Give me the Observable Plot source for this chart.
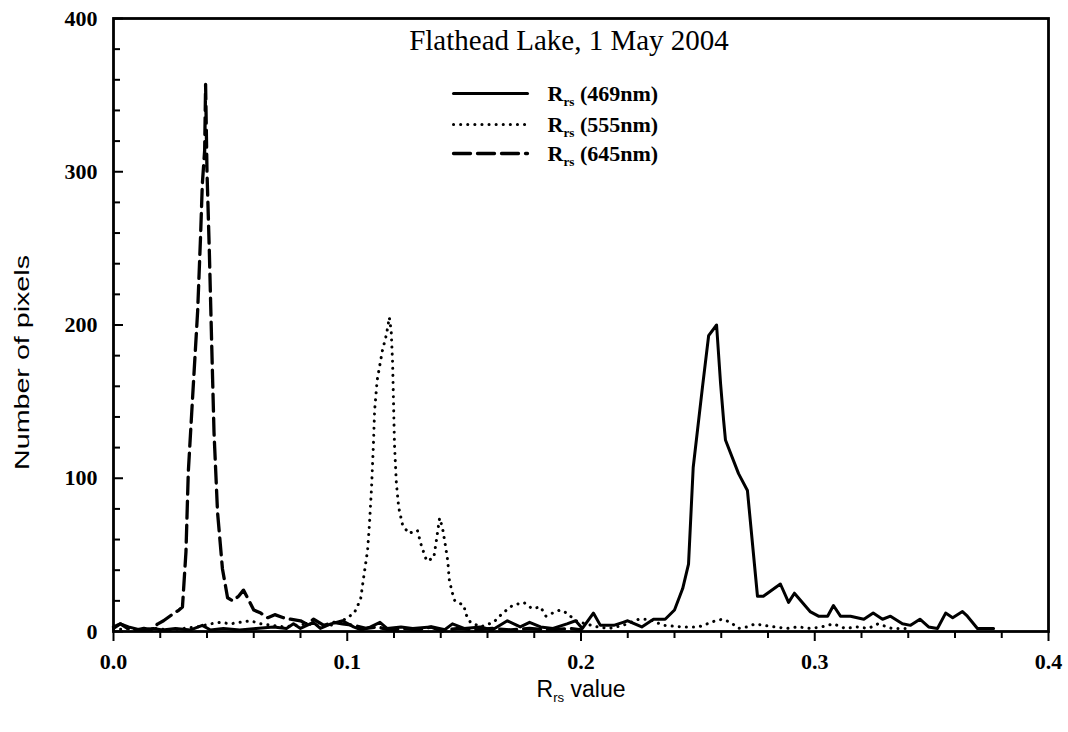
<!DOCTYPE html>
<html><head><meta charset="utf-8">
<script src="https://cdn.jsdelivr.net/npm/d3@7"></script>
<script src="https://cdn.jsdelivr.net/npm/@observablehq/plot@0.6"></script>
<style>
html,body{margin:0;padding:0;background:#fff;}
#chart svg{display:block;}
</style></head><body><div id="chart"></div>
<script>
// ---- data ----
const titleText = "Flathead Lake, 1 May 2004";
const legendLabels = ["R_rs (469nm)", "R_rs (555nm)", "R_rs (645nm)"];
const xLabel = "R_rs value";
const yLabel = "Number of pixels";

const xMajorTicks = [0, 0.1, 0.2, 0.3, 0.4];
const xMinorTicks = [0.02,0.04,0.06,0.08,0.12,0.14,0.16,0.18,0.22,0.24,0.26,0.28,0.32,0.34,0.36,0.38];
const yMajorTicks = [0, 100, 200, 300, 400];
const yMinorTicks = [20,40,60,80,120,140,160,180,220,240,260,280,320,340,360,380];

// Rrs 469 nm (solid)
const r469X = [0.000,0.003,0.0064,0.0115,0.017,0.021,0.0265,0.033,0.038,0.0415,0.047,0.054,0.061,0.0685,0.074,0.077,0.080,0.0855,0.0885,0.093,0.098,0.1027,0.106,0.110,0.114,0.117,0.123,0.128,0.1356,0.1407,0.145,0.150,0.157,0.162,0.1685,0.174,0.178,0.1827,0.188,0.194,0.1977,0.2006,0.2053,0.2083,0.214,0.218,0.220,0.226,0.231,0.236,0.240,0.2435,0.246,0.248,0.252,0.2546,0.258,0.2597,0.261,0.2618,0.2674,0.2712,0.2755,0.278,0.2853,0.2888,0.2913,0.298,0.3016,0.3055,0.308,0.311,0.3153,0.321,0.325,0.329,0.3324,0.3375,0.341,0.345,0.3487,0.3525,0.356,0.359,0.3632,0.3653,0.3696,0.375,0.3765];
const r469Y = [2,5,3,1,2,1,2,1,4,1,2,1,2,3,2,5,2,6,2,5,7,3,1,3,6,2,3,2,3,0,5,2,3,1,7,3,6,3,2,5,7,2,12,4,4,6,7,3,8,8,14,28,44,107,160,193,200,162,138,125,103,92,23,23,31,19,25,13,10,10,17,10,10,8,12,8,10,5,4,8,3,2,12,9,13,10,2,2,2];

// Rrs 555 nm (dotted)
const r555X = [0.000,0.006,0.012,0.018,0.024,0.030,0.036,0.0415,0.046,0.050,0.054,0.0586,0.063,0.068,0.073,0.078,0.083,0.088,0.0928,0.098,0.103,0.1057,0.107,0.1087,0.1095,0.1104,0.1112,0.1117,0.1128,0.115,0.1168,0.118,0.1188,0.1194,0.1198,0.1202,0.121,0.122,0.1236,0.1262,0.130,0.1317,0.134,0.137,0.138,0.1395,0.1407,0.142,0.143,0.1437,0.145,0.146,0.150,0.1505,0.1527,0.157,0.1626,0.1665,0.1707,0.1755,0.179,0.1827,0.185,0.1878,0.191,0.194,0.1977,0.202,0.207,0.212,0.218,0.2247,0.229,0.2353,0.2434,0.2503,0.254,0.2575,0.2605,0.264,0.2674,0.271,0.2746,0.278,0.283,0.288,0.293,0.298,0.303,0.308,0.313,0.318,0.323,0.327,0.333,0.340];
const r555Y = [1,2,1,2,1,2,3,5,6,5,6,7,5,4,3,4,5,4,4,7,12,21,35,53,70,94,122,144,164,183,194,205,196,175,149,122,97,81,70,64,66,56,46,48,58,74,68,56,46,33,25,20,17,12,6,3,6,12,17,19,15,16,10,12,14,12,7,5,3,2,4,8,8,4,3,3,5,7,8,6,2,3,5,4,3,2,3,2,3,5,2,3,2,5,2,2];

// Rrs 645 nm (dashed)
const r645X = [0.000,0.003,0.006,0.010,0.013,0.016,0.019,0.0214,0.025,0.028,0.0295,0.031,0.032,0.034,0.036,0.0372,0.038,0.039,0.0394,0.040,0.041,0.042,0.043,0.0445,0.0466,0.0488,0.051,0.0535,0.0556,0.058,0.060,0.063,0.066,0.069,0.0727,0.0757,0.080,0.0825,0.0856,0.090,0.094,0.098,0.103,0.108,0.113,0.118,0.124,0.130,0.136,0.142,0.148,0.155,0.162,0.170,0.178,0.186,0.195,0.200];
const r645Y = [3,5,2,1,2,1,5,7,11,14,16,52,104,157,209,256,292,314,357,300,248,188,130,78,41,22,20,23,27,20,14,12,9,11,9,8,7,5,8,4,6,5,4,2,3,1,2,1,3,1,2,1,2,1,2,1,2,1];

// ---- layout ----
const W = 1068, H = 732, mL = 113, mR = 20, mT = 18, mB = 101;
const pw = W - mL - mR, ph = H - mT - mB;
const px2x = (px) => (px - mL) / pw * 0.4;
const px2y = (py) => (H - mB - py) / ph * 400;

const toRows = (xs, ys) => xs.map((x, i) => ({x, y: ys[i]}));
const s469 = toRows(r469X, r469Y);
const s555 = toRows(r555X, r555Y);
const s645 = toRows(r645X, r645Y);

const styles = [
  {stroke: "#000", strokeWidth: 3, strokeLinejoin: "round"},
  {stroke: "#000", strokeWidth: 3, strokeDasharray: "0.1 7", strokeLinecap: "round"},
  {stroke: "#000", strokeWidth: 3.3, strokeDasharray: "17 7"}
];
const legendRowsPx = [93, 124, 153];
const legendLines = legendRowsPx.map(py => [{x: px2x(453), y: px2y(py)}, {x: px2x(527), y: px2y(py)}]);
const legendText = legendLabels.map((t, i) => ({t, x: px2x(547), y: px2y(legendRowsPx[i])}));

const serif = "'Liberation Serif', 'Times New Roman', serif";
const sans = "'Liberation Sans', Arial, sans-serif";

const plot = Plot.plot({
  width: W, height: H,
  marginLeft: mL, marginRight: mR, marginTop: mT, marginBottom: mB,
  style: {fontFamily: serif, background: "#fff", color: "#000", overflow: "visible"},
  x: {domain: [0, 0.4], label: null},
  y: {domain: [0, 400], label: null},
  marks: [
    Plot.line(s645, {x: "x", y: "y", ...styles[2]}),
    Plot.line(s555, {x: "x", y: "y", ...styles[1]}),
    Plot.line(s469, {x: "x", y: "y", ...styles[0]}),
    Plot.frame({stroke: "#000", strokeWidth: 2.8}),
    Plot.axisX({ticks: xMinorTicks, tickSize: 7, tickFormat: () => "", strokeWidth: 2, label: null}),
    Plot.axisX({ticks: xMajorTicks, tickSize: 10, tickPadding: 12, strokeWidth: 2, tickFormat: d3.format(".1f"), fontSize: 22, fontWeight: "bold", label: null}),
    Plot.tickY(yMinorTicks, {y: d => d, insetRight: pw - 7, strokeWidth: 2}),
    Plot.tickY(yMajorTicks, {y: d => d, insetRight: pw - 10, strokeWidth: 2}),
    Plot.axisY({ticks: yMajorTicks, tickSize: 0, tickPadding: 16, tickFormat: d3.format("d"), fontSize: 22, fontWeight: "bold", label: null}),
    // title
    Plot.text([titleText], {frameAnchor: "top", dx: -12, dy: 31, lineAnchor: "bottom", fontSize: 29, fontFamily: serif}),
    // legend
    ...legendLines.map((d, i) => Plot.line(d, {x: "x", y: "y", ...styles[i]})),
    Plot.text(legendText, {x: "x", y: "y", text: "t", textAnchor: "start", lineAnchor: "middle", fontSize: 22, fontWeight: "bold", fontFamily: serif}),
    // axis labels
    Plot.text([xLabel], {frameAnchor: "bottom", dx: 0, dy: 58, lineAnchor: "middle", fontSize: 23, fontFamily: sans}),
    Plot.text([yLabel], {frameAnchor: "left", dx: -91, dy: 145, rotate: -90, textAnchor: "start", lineAnchor: "middle", fontSize: 20, fontFamily: sans})
  ]
});

// subscripts and stretched axis title
const NS = "http://www.w3.org/2000/svg";
d3.select(plot).selectAll("text").each(function () {
  const t = this.textContent;
  if (t.startsWith("R_rs")) {
    const fs = parseFloat(getComputedStyle(this).fontSize) || 22;
    const rest = t.slice(4);
    while (this.firstChild) this.removeChild(this.firstChild);
    const a = document.createElementNS(NS, "tspan"); a.textContent = "R";
    const b = document.createElementNS(NS, "tspan"); b.textContent = "rs";
    b.setAttribute("font-size", (fs * 0.6).toFixed(1)); b.setAttribute("dy", (fs * 0.25).toFixed(1));
    const c = document.createElementNS(NS, "tspan"); c.textContent = rest;
    c.setAttribute("dy", (-fs * 0.25).toFixed(1));
    this.append(a, b, c);
  } else if (t === yLabel) {
    this.setAttribute("textLength", 215);
    this.setAttribute("lengthAdjust", "spacingAndGlyphs");
  }
});

document.getElementById("chart").appendChild(plot);
</script>
</body></html>
